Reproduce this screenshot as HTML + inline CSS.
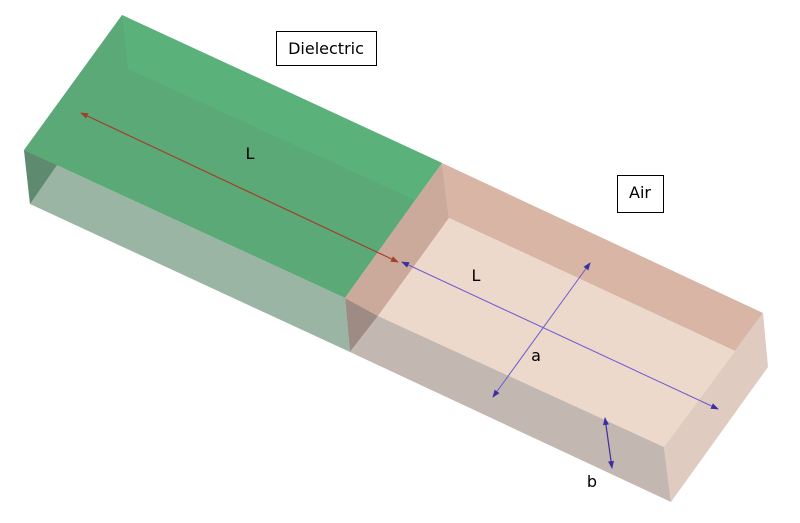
<!DOCTYPE html>
<html><head><style>
body{margin:0;background:#fff;width:800px;height:519px;overflow:hidden;font-family:"DejaVu Sans","Liberation Sans",sans-serif}
</style></head><body>
<svg width="800" height="519" viewBox="0 0 800 519" xmlns="http://www.w3.org/2000/svg">
<defs>
<marker id="mr" markerWidth="8" markerHeight="6" refX="7" refY="3" orient="auto-start-reverse" markerUnits="userSpaceOnUse"><path d="M0,0 L8,3 L0,6 z" fill="#a0412a"/></marker>
<marker id="mb" markerWidth="8" markerHeight="6" refX="7" refY="3" orient="auto-start-reverse" markerUnits="userSpaceOnUse"><path d="M0,0 L8,3 L0,6 z" fill="#3d2fa0"/></marker>
</defs>
<!-- Dielectric -->
<polygon points="24,150 345,298 350,352 30,204" fill="#9ab5a3"/>
<polygon points="24,150 30,204 57,165" fill="#5e8b70"/>
<polygon points="24,150 122,15 442,163 345,298" fill="#5ba977"/>
<polygon points="122,15 442,163 415,200 128,69" fill="#5ab27a"/>
<!-- Air -->
<polygon points="442,163 763,313 735,351 449,218" fill="#d8b5a5"/>
<polygon points="442,163 449,218 378,316 345,298" fill="#cba99b"/>
<polygon points="449,218 378,316 664,447 735,351" fill="#edd9cc"/>
<polygon points="345,298 350,352 378,316" fill="#9e8b83"/>
<polygon points="378,316 664,447 671,502 350,352" fill="#c2b7b1"/>
<polygon points="763,313 768,367 671,502 664,447 735,351" fill="#dfcbc0"/>
<!-- arrows -->
<line x1="81" y1="113" x2="398" y2="262" stroke="#a0412a" stroke-width="1.2" marker-start="url(#mr)" marker-end="url(#mr)"/>
<line x1="402" y1="262" x2="718" y2="409" stroke="#6a5bd0" stroke-width="1" marker-start="url(#mb)" marker-end="url(#mb)"/>
<line x1="590" y1="263" x2="493" y2="397" stroke="#6a5bd0" stroke-width="1" marker-start="url(#mb)" marker-end="url(#mb)"/>
<line x1="605" y1="418" x2="612" y2="468" stroke="#3d2fa0" stroke-width="1.2" marker-start="url(#mb)" marker-end="url(#mb)"/>
<!-- labels -->
<rect x="276.5" y="31.5" width="100" height="34" fill="#fff" stroke="#000"/>
<text x="326" y="54" font-size="16" text-anchor="middle" fill="#000">Dielectric</text>
<rect x="617.5" y="175.5" width="46" height="37" fill="#fff" stroke="#000"/>
<text x="640" y="198" font-size="16" text-anchor="middle" fill="#000">Air</text>
<text x="250" y="159" font-size="16" text-anchor="middle" fill="#000">L</text>
<text x="476" y="281" font-size="16" text-anchor="middle" fill="#000">L</text>
<text x="536" y="361" font-size="16" text-anchor="middle" fill="#000">a</text>
<text x="592" y="487" font-size="16" text-anchor="middle" fill="#000">b</text>
</svg>
</body></html>
